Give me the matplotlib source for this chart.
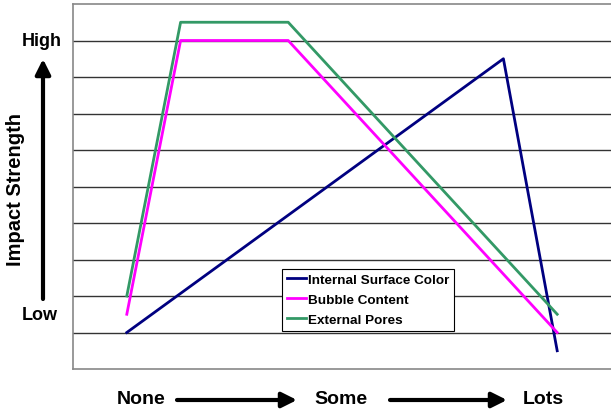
import matplotlib.pyplot as plt

# x positions along None -> Some -> Lots (0..10), impact strength (0..10)
x_surface = [1, 8, 9]
y_surface = [1.0, 8.5, 0.5]
x_bubble = [1, 2, 4, 9]
y_bubble = [1.5, 9.0, 9.0, 1.0]
x_pores = [1, 2, 4, 9]
y_pores = [2.0, 9.5, 9.5, 1.5]

series_names = ["Internal Surface Color", "Bubble Content", "External Pores"]
series_colors = ["#000080", "#FF00FF", "#339966"]

plt.rcParams['font.family'] = ['Liberation Sans', 'DejaVu Sans']

fig = plt.figure(figsize=(6.11, 4.14), dpi=100)
ax = fig.add_axes([73/611, 1 - 370/414, 1 - 73/611, 365/414])

ax.plot(x_surface, y_surface, color=series_colors[0], lw=2.0, label=series_names[0])
ax.plot(x_bubble, y_bubble, color=series_colors[1], lw=2.0, label=series_names[1])
ax.plot(x_pores, y_pores, color=series_colors[2], lw=2.0, label=series_names[2])

ax.set_xlim(0, 10)
ax.set_ylim(0, 10)
ax.set_xticks([])
ax.set_yticks([])
for yv in range(1, 10):
    ax.axhline(yv, color="#333333", lw=1.0, zorder=0)
for s in ["left", "top", "bottom"]:
    ax.spines[s].set_color("#888888")
    ax.spines[s].set_linewidth(1.2)
ax.spines["right"].set_visible(False)

leg = ax.legend(loc="upper left", bbox_to_anchor=((282 - 73) / 538, (370 - 270) / 365),
                frameon=True, fancybox=False, edgecolor="black", framealpha=1,
                prop={"weight": "bold", "size": 9.7}, handlelength=1.45,
                handletextpad=0.15, borderpad=0.35, labelspacing=0.55, borderaxespad=0)
leg.get_frame().set_linewidth(0.8)

# y-axis annotations
fig.text(42/611, 1 - 42/414, "High", ha="center", va="center", fontsize=13, fontweight="bold")
fig.text(40/611, 1 - 316/414, "Low", ha="center", va="center", fontsize=13, fontweight="bold")
fig.text(16/611, 1 - 190/414, "Impact Strength", ha="center", va="center", rotation=90,
         fontsize=14.5, fontweight="bold")
fig.add_artist(plt.Annotation("", xy=(43/611, 1 - 60/414), xytext=(43/611, 1 - 300/414),
                              xycoords="figure fraction", textcoords="figure fraction",
                              arrowprops=dict(arrowstyle="-|>,head_length=0.9,head_width=0.45",
                                              color="black", lw=3, shrinkA=0, shrinkB=0)))

# x-axis annotations
fig.text(141/611, 1 - 400/414, "None", ha="center", va="center", fontsize=14, fontweight="bold")
fig.text(341/611, 1 - 400/414, "Some", ha="center", va="center", fontsize=14, fontweight="bold")
fig.text(543/611, 1 - 400/414, "Lots", ha="center", va="center", fontsize=14, fontweight="bold")
for x0, x1 in [(177, 297), (390, 507)]:
    fig.add_artist(plt.Annotation("", xy=(x1/611, 1 - 401/414), xytext=(x0/611, 1 - 401/414),
                                  xycoords="figure fraction", textcoords="figure fraction",
                                  arrowprops=dict(arrowstyle="-|>,head_length=0.9,head_width=0.45",
                                                  color="black", lw=3, shrinkA=0, shrinkB=0)))

plt.savefig("out.png", dpi=100)
